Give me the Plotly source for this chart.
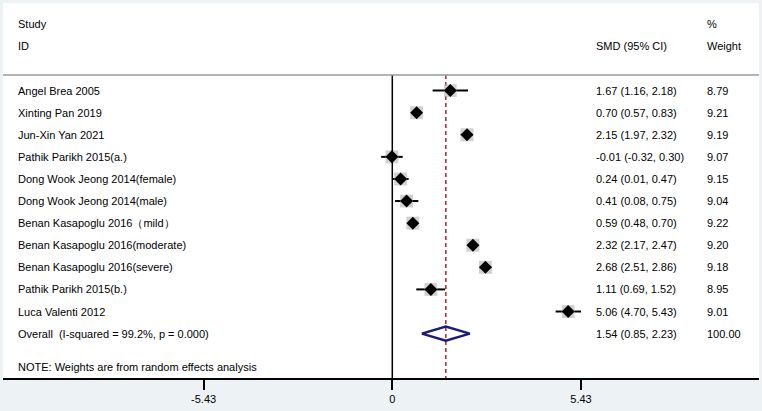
import plotly.graph_objects as go

studies = ["Angel Brea 2005", "Xinting Pan 2019", "Jun-Xin Yan 2021", "Pathik Parikh 2015(a.)",
           "Dong Wook Jeong 2014(female)", "Dong Wook Jeong 2014(male)", "Benan Kasapoglu 2016\uff08mild\uff09",
           "Benan Kasapoglu 2016(moderate)", "Benan Kasapoglu 2016(severe)", "Pathik Parikh 2015(b.)",
           "Luca Valenti 2012"]
smd = [1.67, 0.70, 2.15, -0.01, 0.24, 0.41, 0.59, 2.32, 2.68, 1.11, 5.06]
lo = [1.16, 0.57, 1.97, -0.32, 0.01, 0.08, 0.48, 2.17, 2.51, 0.69, 4.70]
hi = [2.18, 0.83, 2.32, 0.30, 0.47, 0.75, 0.70, 2.47, 2.86, 1.52, 5.43]
weights = [8.79, 9.21, 9.19, 9.07, 9.15, 9.04, 9.22, 9.20, 9.18, 8.95, 9.01]
overall_label = "Overall  (I-squared = 99.2%, p = 0.000)"
overall = 1.54
overall_lo = 0.85
overall_hi = 2.23
xticks = [-5.43, 0, 5.43]

W, H = 762, 411
ML, MR, MT, MB = 3, 3, 3, 33
pxu = 34.75
zero_px = 392.3
xmin = -(zero_px - ML) / pxu
xmax = (W - MR - zero_px) / pxu
ytop, ybot = -3.965, 13.01
sep_y = -0.71
FONT = "Liberation Sans, Arial, sans-serif"
FS = 11


def px(x):
    return (x - ML) / (W - ML - MR)


rows = list(range(len(studies)))
fig = go.Figure()

# confidence intervals
for i in rows:
    fig.add_trace(go.Scatter(x=[lo[i], hi[i]], y=[i, i], mode="lines",
                             line=dict(color="black", width=2), hoverinfo="skip", showlegend=False))

# weight squares
sizes = [13 * (w / 9.2) ** 0.5 for w in weights]
fig.add_trace(go.Scatter(x=smd, y=rows, mode="markers",
                         marker=dict(symbol="square", size=sizes, color="#bdbdbd", line=dict(width=0)),
                         showlegend=False, hoverinfo="skip"))
fig.add_trace(go.Scatter(x=smd, y=rows, mode="markers",
                         marker=dict(symbol="diamond", size=10, color="black"),
                         showlegend=False))

# overall diamond
oy = len(studies)
h = 0.32
fig.add_trace(go.Scatter(x=[overall_lo, overall, overall_hi, overall, overall_lo],
                         y=[oy, oy - h, oy, oy + h, oy], mode="lines",
                         line=dict(color="#1c1c78", width=2.5), showlegend=False, hoverinfo="skip"))

# reference lines
fig.add_shape(type="line", x0=0, x1=0, y0=sep_y, y1=ybot, xref="x", yref="y",
              line=dict(color="black", width=1.5))
fig.add_shape(type="line", x0=overall, x1=overall, y0=sep_y, y1=ybot, xref="x", yref="y",
              line=dict(color="#b0303a", width=1.6, dash="4px,3px"), layer="below")
fig.add_shape(type="line", x0=0, x1=1, xref="paper", y0=sep_y, y1=sep_y, yref="y",
              line=dict(color="#9a9a9a", width=1.5))

ann = []


def txt(xp, y, s):
    ann.append(dict(x=px(xp), y=y, xref="paper", yref="y", text=s, showarrow=False,
                    xanchor="left", yanchor="middle", font=dict(family=FONT, size=FS, color="#000")))


txt(16, -3.015, "Study")
txt(16, -2.0, "ID")
txt(593.7, -2.0, "SMD (95% CI)")
txt(705, -3.015, "%")
txt(705, -2.0, "Weight")
for i in rows:
    txt(16, i, studies[i])
    txt(593.7, i, "%.2f (%.2f, %.2f)" % (smd[i], lo[i], hi[i]))
    txt(705, i, "%.2f" % weights[i])
txt(16, oy, overall_label)
txt(593.7, oy, "%.2f (%.2f, %.2f)" % (overall, overall_lo, overall_hi))
txt(705, oy, "100.00")
txt(16, 12.5, "NOTE: Weights are from random effects analysis")

fig.update_layout(
    width=W, height=H,
    margin=dict(l=ML, r=MR, t=MT, b=MB),
    paper_bgcolor="#edf2f4", plot_bgcolor="white",
    annotations=ann,
    xaxis=dict(range=[xmin, xmax], tickvals=xticks, ticktext=["-5.43", "0", "5.43"],
               showgrid=False, zeroline=False, showline=True, linecolor="black", linewidth=2,
               ticks="outside", ticklen=10, tickwidth=2, tickcolor="black",
               tickfont=dict(family=FONT, size=FS, color="#000")),
    yaxis=dict(range=[ybot, ytop], visible=False, showgrid=False, zeroline=False),
)

fig.write_html("out.html", config={"displayModeBar": False},
               post_script="document.body.style.margin='0px';")
